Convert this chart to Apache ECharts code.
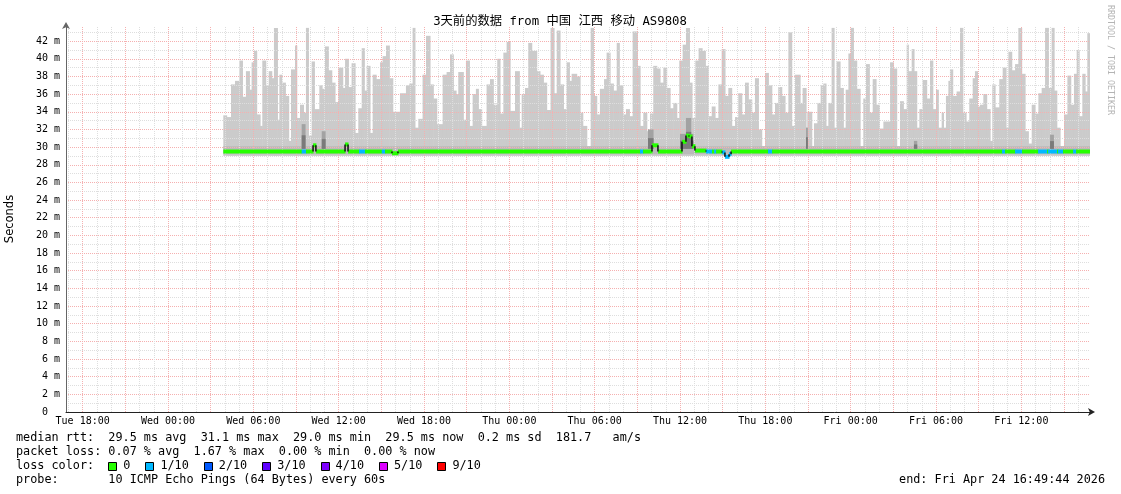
<!DOCTYPE html>
<html><head><meta charset="utf-8">
<script src="https://cdn.jsdelivr.net/npm/echarts@6/dist/echarts.min.js"></script>
<style>html,body{margin:0;padding:0;background:#fff}#c{width:1121px;height:494px}</style>
</head><body><div id="c"></div>
<script>
// ---------------- data ----------------
const titleText = '3天前的数据 from 中国 江西 移动 AS9808';
const endLabel = 'end: Fri Apr 24 16:49:44 2026';
const startHour = 16 + 49/60 + 44/3600;   // Tue 16:49:44 (hours since Tue 00:00)
const spanHours = 72;
const dayNames = ['Tue', 'Wed', 'Thu', 'Fri'];
const xLabelHours = [18, 24, 30, 36, 42, 48, 54, 60, 66, 72, 78, 84];
const yLabelValues = [0, 2, 4, 6, 8, 10, 12, 14, 16, 18, 20, 22, 24, 26, 28, 30, 32, 34, 36, 38, 40, 42];
const yMax = 43.6;

// smoke: segment start (hours) and max rtt (ms)
const smokeT = [
27.89,28.12,28.43,28.71,29.02,29.23,29.48,29.72,29.88,30.05,30.23,30.47,30.63,30.87,31.08,31.29,31.45,31.69,31.83,31.99,
32.25,32.48,32.65,32.93,33.05,33.28,33.52,33.70,33.87,34.10,34.29,34.64,34.83,35.04,35.27,35.51,35.74,35.98,36.28,36.45,
36.68,36.91,37.15,37.38,37.62,37.80,37.97,38.20,38.39,38.63,38.91,39.09,39.33,39.56,39.80,
40.31,40.73,40.97,41.20,41.36,41.60,41.90,42.14,42.42,42.65,42.89,43.31,43.59,43.83,44.06,44.25,44.41,44.76,44.95,45.19,
45.42,45.65,45.82,46.05,46.40,46.64,46.87,47.15,47.34,47.58,47.81,48.05,48.40,48.70,48.87,49.10,49.33,49.57,49.92,50.15,
50.39,50.62,50.90,51.14,51.33,51.56,51.80,52.03,52.22,52.38,52.73,52.97,53.16,53.44,53.72,53.91,54.14,54.37,54.66,54.84,
55.08,55.31,55.55,55.73,55.97,56.20,56.44,56.67,57.00,57.19,57.42,57.66,57.89,58.12,58.36,58.59,58.83,59.06,59.30,59.53,
59.77,59.95,60.19,60.42,60.66,60.84,61.08,61.31,61.55,61.78,61.99,62.23,62.46,62.70,62.93,63.16,63.40,63.63,63.87,64.10,
64.34,64.57,64.80,65.04,65.27,65.51,65.74,65.98,66.21,66.45,66.68,66.91,67.15,67.38,67.62,67.85,68.09,
68.44,68.62,68.86,68.95,69.26,69.42,69.66,69.89,70.08,70.26,70.43,70.66,70.83,71.01,71.25,71.48,71.65,71.84,72.00,72.19,
72.42,72.66,72.89,73.08,73.31,73.55,73.78,74.02,74.30,74.77,75.00,75.23,75.47,75.70,75.94,76.05,76.29,76.45,76.64,76.83,
77.06,77.34,77.58,77.77,78.00,78.16,78.40,78.52,78.70,78.87,78.98,79.17,79.45,79.69,79.88,80.11,80.34,80.58,80.74,80.91,
81.09,81.33,81.56,81.80,81.96,82.15,82.45,82.69,82.92,83.09,83.32,83.56,83.79,84.02,84.26,84.49,84.73,84.96,85.20,85.43,
85.67,85.90,86.13,86.30,86.49,86.72,87.00,87.24,87.47,87.70,87.89,88.06,88.29,88.48,88.64
];
const smokeMax = [
33.6,33.4,37.1,37.5,39.8,35.7,38.6,36.5,39.6,40.9,33.7,32.4,39.8,37.0,38.6,37.8,43.5,33.1,38.2,37.3,
35.8,30.7,38.8,41.5,33.3,34.8,33.9,43.5,31.3,39.7,34.3,37.0,36.6,41.4,38.7,37.3,35.1,39.0,36.7,40.0,
36.8,39.5,31.6,34.4,41.2,36.4,39.2,31.6,38.2,37.7,39.6,40.3,41.5,37.8,34.0,
36.1,37.0,37.2,43.5,32.2,33.2,38.2,42.6,37.1,35.5,32.6,38.2,38.5,40.5,36.4,36.0,38.5,33.1,39.8,32.4,
36.0,36.6,34.3,32.4,37.1,37.7,34.8,40.0,33.8,40.7,41.9,34.1,38.6,32.2,36.0,36.7,41.8,40.9,38.6,38.2,
37.3,34.2,43.5,36.1,43.2,37.1,34.3,39.6,37.5,38.3,38.0,33.9,32.4,30.1,43.5,35.8,33.7,36.6,37.7,40.7,
37.2,36.4,41.8,37.0,33.7,34.3,33.5,43.1,39.2,32.4,33.9,31.8,33.8,39.2,38.9,37.3,39.0,36.7,34.4,35.0,
33.3,39.8,41.6,43.5,37.3,33.3,39.8,41.2,40.9,39.2,33.5,34.6,33.3,37.1,41.1,35.8,36.7,32.4,33.4,36.1,
33.7,37.3,35.4,33.9,37.8,32.0,30.1,38.4,37.0,33.7,35.0,36.8,35.8,33.9,43.0,32.4,38.2,
35.0,36.7,32.2,34.0,30.1,32.7,35.0,37.0,37.2,32.4,35.0,43.5,32.2,39.7,36.7,32.2,36.5,40.6,43.5,39.8,
36.6,30.1,35.5,39.4,33.9,37.7,34.8,32.1,32.9,39.6,38.9,30.1,35.2,34.3,41.6,38.6,41.1,38.6,32.2,34.3,
37.6,35.5,39.8,34.3,36.5,32.2,33.9,32.2,35.8,37.5,38.8,35.8,36.3,43.5,33.9,32.9,35.5,37.8,38.6,34.6,
34.8,36.0,34.3,30.7,37.1,34.5,37.7,39.0,32.2,40.8,38.7,39.4,43.5,38.3,31.8,30.4,34.8,33.8,36.1,36.7,
43.5,36.7,43.5,36.4,32.2,30.1,33.7,38.1,34.8,38.3,41.0,33.5,38.3,36.3,42.9
];
const smokeFloor = 29.0;          // min rtt
const bandLow = 29.2, bandHigh = 30.1;  // dense inner smoke
// darker smoke spikes: start, end (hours), top (ms)
const darkStart = [33.40, 34.81, 57.75, 60.00, 60.42, 60.75, 68.86, 76.45, 86.02];
const darkEnd   = [33.63, 35.04, 58.10, 60.42, 60.75, 60.90, 68.95, 76.64, 86.25];
const darkTop   = [32.6, 31.8, 32.0, 31.5, 33.3, 31.5, 32.2, 30.7, 31.4];
// median rtt: segment start, value, loss level (index into lossColors)
const medT = [27.89,33.40,33.70,34.20,34.40,36.45,36.66,37.43,37.85,39.03,39.26,39.75,40.17,57.19,57.40,58.03,58.45,60.14,60.42,60.63,
  60.84,61.05,61.83,62.25,62.40,62.54,62.96,63.16,63.45,63.59,66.19,66.47,82.64,82.85,83.56,84.05,85.18,85.81,85.88,86.51,86.58,86.93,87.64,87.85];
const medV = [29.5,29.5,29.5,30.2,29.5,30.3,29.5,29.5,29.5,29.5,29.5,29.3,29.5,29.5,29.5,30.2,29.5,30.6,31.3,31.2,
  30.1,29.6,29.5,29.5,29.5,29.5,29.4,28.9,29.2,29.5,29.5,29.5,29.5,29.5,29.5,29.5,29.5,29.5,29.5,29.5,29.5,29.5,29.5,29.5];
const medLoss = [0,1,0,0,0,0,0,1,0,1,0,0,0,1,0,0,0,0,0,0,
  0,0,1,0,1,0,1,1,1,0,1,0,1,0,1,0,1,0,1,0,1,0,1,0];
const lossColors = ['#26ff00', '#00b8ff', '#0059ff', '#5e00ff', '#7e00ff', '#dd00ff', '#ff0000'];
const lossLabels = ['0', '1/10', '2/10', '3/10', '4/10', '5/10', '9/10'];
const statLine1 = 'median rtt:  29.5 ms avg  31.1 ms max  29.0 ms min  29.5 ms now  0.2 ms sd  181.7   am/s';
const statLine2 = 'packet loss: 0.07 % avg  1.67 % max  0.00 % min  0.00 % now';
const statLine3 = 'loss color:';
const statLine4 = 'probe:       10 ICMP Echo Pings (64 Bytes) every 60s';

// ---------------- build ----------------
const endHour = startHour + spanHours;
const MONO = '"DejaVu Sans Mono", "Noto Sans CJK SC", monospace';
const nextOf = (arr, i, last) => (i + 1 < arr.length ? arr[i + 1] : last);
const smokeData = smokeT.map((t, i) => [t, nextOf(smokeT, i, endHour), smokeFloor, smokeMax[i]]);
const bandData = [[smokeT[0], endHour, bandLow, bandHigh]];
const darkData = darkStart.map((t, i) => [t, darkEnd[i], 29.8, darkTop[i]]);
const darkCore = darkStart.map((t, i) => [t, darkEnd[i], 29.8, 29.8 + (darkTop[i] - 29.8) * 0.55]);
const medData = medT.map((t, i) => [t, nextOf(medT, i, endHour), medV[i], i > 0 ? medV[i - 1] : medV[i], medLoss[i]]);

const minorHours = [], majorHours = [];
for (let h = Math.ceil(startHour); h <= Math.floor(endHour); h++) (h % 3 === 0 ? majorHours : minorHours).push(h);
const minorY = [], majorY = [];
for (let v = 1; v <= Math.floor(yMax); v++) (v % 2 === 0 ? majorY : minorY).push(v);

function rectRenderer(fill) {
  return function (params, api) {
    const a = api.coord([api.value(0), api.value(3)]);
    const b = api.coord([api.value(1), api.value(2)]);
    return { type: 'rect', shape: { x: a[0], y: a[1], width: Math.max(0.6, b[0] - a[0] + 0.6), height: b[1] - a[1] }, style: { fill: fill } };
  };
}
function medianRenderer(params, api) {
  const t0 = api.value(0), t1 = api.value(1), v = api.value(2), pv = api.value(3), lv = api.value(4);
  const p0 = api.coord([t0, v]), p1 = api.coord([t1, v]), pp = api.coord([t0, pv]);
  const children = [{ type: 'line', shape: { x1: p0[0], y1: p0[1], x2: p1[0] + 0.5, y2: p1[1] }, style: { stroke: lossColors[lv], lineWidth: 4 } }];
  if (Math.abs(pv - v) > 1e-6) children.push({ type: 'line', shape: { x1: p0[0], y1: pp[1], x2: p0[0], y2: p0[1] }, style: { stroke: '#111', lineWidth: 1.5 } });
  return { type: 'group', children: children };
}
const fmtHour = v => dayNames[Math.floor(v / 24)] + ' ' + String(v % 24).padStart(2, '0') + ':00';

const gridMinor = { color: '#dedede', type: [1, 1], width: 1 };
const gridMajor = { color: '#f5b0b0', type: [1, 1], width: 1 };

// legend graphics
const charW = 7.1;
const g = [];
const txt = (x, y, s, extra) => Object.assign({ type: 'text', x: x, y: y, z: 100, silent: true,
  style: { text: s, font: '11.8px ' + MONO, fill: '#000', align: 'left', verticalAlign: 'middle' } }, extra || {});
g.push(txt(16, 438, statLine1));
g.push(txt(16, 452, statLine2));
g.push(txt(16, 466, statLine3));
g.push(txt(16, 480, statLine4));
let cx = 16 + 13 * charW;
lossLabels.forEach((lab, i) => {
  g.push({ type: 'rect', z: 100, silent: true, shape: { x: Math.round(cx) + 0.5, y: 462.5, width: 8, height: 8 }, style: { fill: lossColors[i], stroke: '#000', lineWidth: 1 } });
  g.push(txt(cx + 15, 466, lab));
  cx = cx + 15 + lab.length * charW + 15;
});
const endTxt = txt(1105, 480, endLabel); endTxt.style.align = 'right'; g.push(endTxt);
g.push({ type: 'text', x: 560, y: 22, z: 100, silent: true, style: { text: titleText, font: '12.3px ' + MONO, fill: '#000', align: 'center', verticalAlign: 'middle' } });
g.push({ type: 'text', x: 10, y: 219, rotation: Math.PI / 2, z: 100, silent: true, style: { text: 'Seconds', font: '11.5px "DejaVu Sans"', fill: '#000', align: 'center', verticalAlign: 'middle' } });
g.push({ type: 'text', x: 1110, y: 5, rotation: -Math.PI / 2, z: 100, silent: true, style: { text: 'RRDTOOL / TOBI OETIKER', font: '8.3px ' + MONO, fill: '#b4b4b4', align: 'left', verticalAlign: 'middle' } });

const chart = echarts.init(document.getElementById('c'), null, { renderer: 'canvas' });
chart.setOption({
  animation: false,
  backgroundColor: '#fff',
  grid: { left: 66, right: 31, top: 27, bottom: 82, containLabel: false },
  xAxis: [{
    type: 'value', min: startHour, max: endHour, position: 'bottom',
    axisLine: { show: true, lineStyle: { color: '#222', width: 1 }, symbol: ['none', 'arrow'], symbolSize: [6, 7], symbolOffset: [0, 5] },
    axisTick: { show: false, customValues: minorHours },
    axisLabel: { customValues: xLabelHours, formatter: fmtHour, margin: 4, fontSize: 10, fontFamily: MONO, color: '#000' },
    splitLine: { show: true, lineStyle: gridMinor }
  }, {
    type: 'value', min: startHour, max: endHour, position: 'top',
    axisLine: { show: false }, axisTick: { show: false, customValues: majorHours }, axisLabel: { show: false },
    splitLine: { show: true, lineStyle: gridMajor }
  }],
  yAxis: [{
    type: 'value', min: 0, max: yMax, position: 'left',
    axisLine: { show: true, lineStyle: { color: '#666', width: 1 }, symbol: ['none', 'arrow'], symbolSize: [6, 7], symbolOffset: [0, 5] },
    axisTick: { show: false, customValues: minorY },
    axisLabel: { customValues: yLabelValues, formatter: v => (v === 0 ? '0  ' : v + ' m'), margin: 6, fontSize: 10, fontFamily: MONO, color: '#000' },
    splitLine: { show: true, lineStyle: gridMinor }
  }, {
    type: 'value', min: 0, max: yMax, position: 'right',
    axisLine: { show: false }, axisTick: { show: false, customValues: majorY }, axisLabel: { show: false },
    splitLine: { show: true, lineStyle: gridMajor }
  }],
  series: [
    { type: 'custom', name: 'smoke', z: -3, silent: true, clip: true, xAxisIndex: 0, yAxisIndex: 0, encode: { x: [0, 1], y: [2, 3] }, renderItem: rectRenderer('#cbcbcb'), data: smokeData },
    { type: 'custom', name: 'band', z: -2, silent: true, clip: true, xAxisIndex: 0, yAxisIndex: 0, encode: { x: [0, 1], y: [2, 3] }, renderItem: rectRenderer('#bababa'), data: bandData },
    { type: 'custom', name: 'dark', z: 3, silent: true, clip: true, xAxisIndex: 0, yAxisIndex: 0, encode: { x: [0, 1], y: [2, 3] }, renderItem: rectRenderer('#a2a2a2'), data: darkData },
    { type: 'custom', name: 'darkcore', z: 4, silent: true, clip: true, xAxisIndex: 0, yAxisIndex: 0, encode: { x: [0, 1], y: [2, 3] }, renderItem: rectRenderer('#7a7a7a'), data: darkCore },
    { type: 'custom', name: 'median', z: 5, silent: true, clip: true, xAxisIndex: 0, yAxisIndex: 0, encode: { x: [0, 1], y: [2, 3] }, renderItem: medianRenderer, data: medData }
  ],
  graphic: { elements: g }
});
</script>
</body></html>
